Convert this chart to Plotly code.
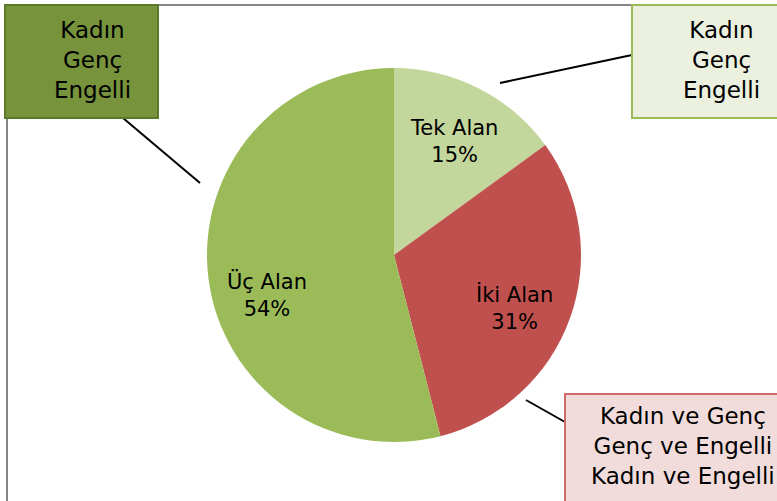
import plotly.graph_objects as go

W, H = 777, 501

# Data
categories = ["Tek Alan", "İki Alan", "Üç Alan"]
values = [15, 31, 54]
colors = ["#C3D69B", "#C0504D", "#9BBB59"]

callout_texts = [
    "Kadın<br>Genç<br>Engelli",
    "Kadın<br>Genç<br>Engelli",
    "Kadın ve Genç<br>Genç ve Engelli<br>Kadın ve Engelli",
]

# layout positions (pixels) for slice labels and callout texts
slice_label_pos = [(454, 141), (514, 308), (267, 295)]
callout_text_pos = [(92, 60), (721, 60), (683, 446)]

def px(x):
    return x / W

def py(y):
    return 1 - y / H

FONT = "DejaVu Sans"

fig = go.Figure()

# pie geometry (pixels)
cx, cy, R = 394, 255, 187
fig.add_trace(go.Pie(
    labels=categories,
    values=values,
    sort=False,
    direction="clockwise",
    rotation=0,
    marker=dict(colors=colors, line=dict(width=0)),
    textinfo="none",
    hoverinfo="label+percent",
    showlegend=False,
    domain=dict(x=[px(cx - R), px(cx + R)], y=[py(cy + R), py(cy - R)]),
))

shapes = []
# chart frame
shapes.append(dict(type="rect", xref="paper", yref="paper",
                   x0=px(7), x1=px(800), y0=py(5), y1=py(520),
                   line=dict(color="#868686", width=2), fillcolor="rgba(0,0,0,0)", layer="below"))
# connector lines
for (x0, y0, x1, y1) in [(123, 118, 200, 183), (500, 83, 632, 55), (526, 400, 565, 422)]:
    shapes.append(dict(type="line", xref="paper", yref="paper",
                       x0=px(x0), y0=py(y0), x1=px(x1), y1=py(y1),
                       line=dict(color="#000000", width=2)))
# callout boxes
boxes = [
    (5, 5, 158, 118, "#77933C", "#5B7A2C"),
    (632, 5, 800, 118, "#EBF1DE", "#9BBB59"),
    (565, 394, 800, 520, "#F2DCDB", "#D06A68"),
]
for (x0, y0, x1, y1, fc, lc) in boxes:
    shapes.append(dict(type="rect", xref="paper", yref="paper",
                       x0=px(x0), x1=px(x1), y0=py(y0), y1=py(y1),
                       line=dict(color=lc, width=2), fillcolor=fc))

annotations = []
total = sum(values)
for (tx, ty), lab, v in zip(slice_label_pos, categories, values):
    annotations.append(dict(x=px(tx), y=py(ty), xref="paper", yref="paper",
                            text=f"{lab}<br>{round(100 * v / total)}%",
                            showarrow=False, align="center",
                            xanchor="center", yanchor="middle",
                            font=dict(family=FONT, size=21, color="#000000")))
for (tx, ty), t in zip(callout_text_pos, callout_texts):
    annotations.append(dict(x=px(tx), y=py(ty), xref="paper", yref="paper",
                            text=t, showarrow=False, align="center",
                            xanchor="center", yanchor="middle",
                            font=dict(family=FONT, size=23, color="#000000")))

fig.update_layout(
    width=W, height=H,
    margin=dict(l=0, r=0, t=0, b=0),
    paper_bgcolor="#FFFFFF",
    plot_bgcolor="#FFFFFF",
    shapes=shapes,
    annotations=annotations,
)

fig.write_html("out.html", config={"displayModeBar": False},
               post_script="document.body.style.margin='0px';")
